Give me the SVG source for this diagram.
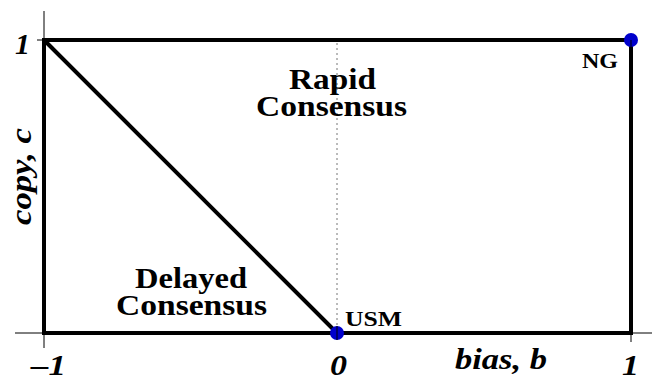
<svg xmlns="http://www.w3.org/2000/svg" width="652" height="379" viewBox="0 0 652 379">
<style>
text{font-family:'Liberation Serif','Times New Roman',serif;font-weight:bold;fill:#000}
.i{font-style:italic;font-size:30px}
.lab{font-size:30px}
.pt{font-size:22px}
.thick{stroke:#000;stroke-width:4;fill:none}
.thin{stroke:#000;stroke-width:1;fill:none}
.dot{fill:#0000cc}
</style>
<rect width="652" height="379" fill="#fff"/>
<g id="axes">
<line class="thin" x1="44" y1="11" x2="44" y2="40"/>
<line class="thin" x1="37" y1="40" x2="44" y2="40"/>
<line class="thin" x1="15" y1="333" x2="44" y2="333"/>
<line class="thin" x1="44" y1="333" x2="44" y2="348"/>
<line class="thin" x1="631" y1="333" x2="652" y2="333"/>
<line class="thin" x1="631" y1="333" x2="631" y2="342"/>
<line x1="337" y1="43" x2="337" y2="331" stroke="#777" stroke-width="1" stroke-dasharray="2,3"/>
</g>
<g id="connectors">
<rect class="thick" x="44" y="40" width="587" height="293"/>
<line class="thick" x1="44" y1="40" x2="337" y2="333"/>
</g>
<g id="USM">
<circle class="dot" cx="337" cy="333" r="7"/>
<line class="thin" x1="337" y1="326" x2="337" y2="340"/>
<text class="pt" x="345" y="326" textLength="57" lengthAdjust="spacingAndGlyphs">USM</text>
</g>
<g id="NG">
<circle class="dot" cx="631" cy="40" r="7"/>
<line class="thin" x1="631" y1="40" x2="631" y2="47"/>
<text class="pt" x="582" y="68" textLength="36" lengthAdjust="spacingAndGlyphs">NG</text>
</g>
<g id="rapid">
<text class="lab" x="289" y="89" textLength="87" lengthAdjust="spacingAndGlyphs">Rapid</text>
<text class="lab" x="256" y="116" textLength="151" lengthAdjust="spacingAndGlyphs">Consensus</text>
</g>
<g id="delayed">
<text class="lab" x="135" y="288" textLength="112" lengthAdjust="spacingAndGlyphs">Delayed</text>
<text class="lab" x="116" y="315" textLength="151" lengthAdjust="spacingAndGlyphs">Consensus</text>
</g>
<g id="labels">
<text class="i" x="15" y="54">1</text>
<text class="i" x="31" y="375" textLength="35" lengthAdjust="spacingAndGlyphs">–1</text>
<text class="i" x="330" y="375" textLength="17" lengthAdjust="spacingAndGlyphs">0</text>
<text class="i" x="622" y="375" textLength="17" lengthAdjust="spacingAndGlyphs">1</text>
<text class="i" x="455" y="369" textLength="92" lengthAdjust="spacingAndGlyphs">bias, b</text>
<text class="i" transform="translate(31,225) rotate(-90)" textLength="97" lengthAdjust="spacingAndGlyphs">copy, c</text>
</g>
</svg>
